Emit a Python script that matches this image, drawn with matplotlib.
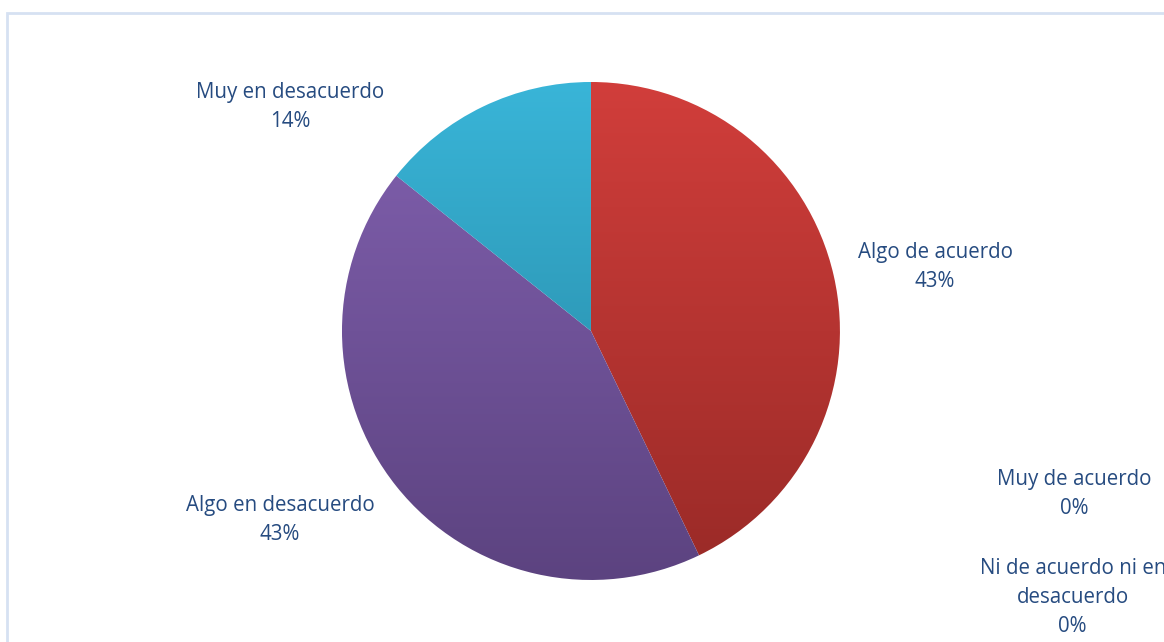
import numpy as np
import matplotlib.pyplot as plt
from matplotlib.colors import LinearSegmentedColormap

labels = ['Algo de acuerdo', 'Muy de acuerdo', 'Ni de acuerdo ni en\ndesacuerdo',
          'Algo en desacuerdo', 'Muy en desacuerdo']
values = [3, 0, 0, 3, 1]
pct_text = ['43%', '0%', '0%', '43%', '14%']
top_colors = ['#d13e3b', '#4f81bd', '#9bbb59', '#8261b0', '#39b5d8']
bot_colors = ['#992a27', '#3a5f8c', '#728a42', '#5c4380', '#24819c']
# label positions (axes data coords, pie radius = 1)
label_xy = [(1.382, 0.257), (1.94, -0.655), (1.935, -1.072), (-1.249, -0.759), (-1.209, 0.90)]

text_color = '#264b80'

fig = plt.figure(figsize=(11.64, 6.42), dpi=100)
ax = fig.add_axes([0.2938, 0.0966, 0.4278, 0.7757])

wedges, _ = ax.pie(values, startangle=90, counterclock=False, radius=1,
                   wedgeprops=dict(linewidth=0, edgecolor='none'))
ax.set_xlim(-1, 1)
ax.set_ylim(-1, 1)

grad = np.linspace(1, 0, 256).reshape(-1, 1)
for i, w in enumerate(wedges):
    if values[i] == 0:
        continue
    w.set_facecolor('none')
    cmap = LinearSegmentedColormap.from_list('g%d' % i, [bot_colors[i], top_colors[i]])
    im = ax.imshow(grad, cmap=cmap, extent=(-1, 1, -1, 1), aspect='auto',
                   origin='upper', zorder=1, vmin=0, vmax=1)
    im.set_clip_path(w)

ax.set_axis_off()

for i in range(len(labels)):
    ax.text(label_xy[i][0], label_xy[i][1], labels[i] + '\n' + pct_text[i],
            ha='center', va='center', fontsize=14.8, color=text_color,
            family='Open Sans', linespacing=1.5, clip_on=False)

# chart frame
fig.patches.append(plt.Rectangle((7 / 1164, -0.1), 1.2, (642 - 13) / 642 + 0.1,
                                 transform=fig.transFigure, fill=False,
                                 edgecolor='#d6e1f2', linewidth=2))

fig.savefig('out.png', dpi=100)
